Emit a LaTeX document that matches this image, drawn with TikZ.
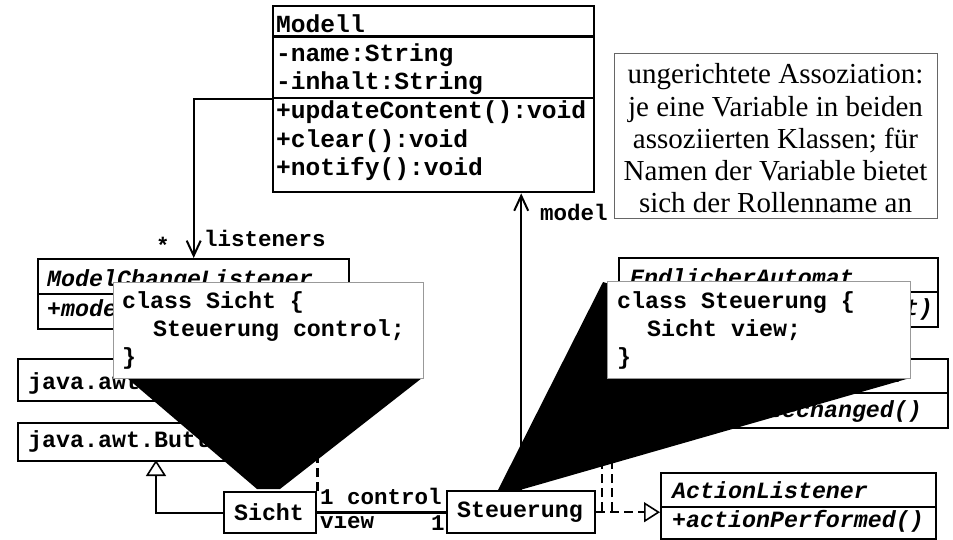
\documentclass[tikz,border=0pt]{standalone}
\usepackage{fontspec}
\setmainfont{Liberation Serif}
\newfontfamily\cmono{Liberation Mono}
\usetikzlibrary{arrows.meta}
\tikzset{
  clsbox/.style={draw, line width=2.4pt, inner sep=0pt, anchor=north west, fill=white},
  ctext/.style={font=\cmono\bfseries\fontsize{23.3}{28}\selectfont, inner sep=0pt, anchor=base west},
  ctexti/.style={font=\cmono\bfseries\itshape\fontsize{23.3}{28}\selectfont, inner sep=0pt, anchor=base west},
  mtext/.style={font=\cmono\bfseries\fontsize{24.6}{29}\selectfont, inner sep=0pt, anchor=base west},
  lbl/.style={font=\cmono\bfseries\fontsize{22.5}{27}\selectfont, inner sep=0pt, anchor=base west},
  sepline/.style={line width=2.4pt},
  conn/.style={line width=2.2pt},
  dashconn/.style={line width=2.2pt, dash pattern=on 9pt off 5pt},
  opentri/.style={-{Triangle[open, length=16pt, width=20pt, line width=1.6pt]}},
  barb/.style={-{Straight Barb[length=15pt, width=14pt, line width=2pt]}},
  callbox/.style={draw=black!40, line width=1.4pt, fill=white, inner sep=0pt, anchor=north west},
  calltext/.style={font=\cmono\bfseries\fontsize{23.3}{28}\selectfont, inner sep=0pt, anchor=base west, align=left},
}
\begin{document}
\begin{tikzpicture}[x=1pt,y=-1pt]
\useasboundingbox (0,0) rectangle (953,540);
\fill[white] (0,0) rectangle (953,540);

% ---------- Modell ----------
\node[clsbox, minimum width=321pt, minimum height=186pt] (modell) at (272,5) {};
\draw[line width=3pt] (modell.west |- 0,37) -- (modell.east |- 0,37);
\draw[sepline] (modell.west |- 0,98) -- (modell.east |- 0,98);
\node[mtext] (m1) at (276,33) {Modell};
\node[mtext] (m2) at (276,62) {-name:String};
\node[mtext] (m3) at (276,90) {-inhalt:String};
\node[mtext] (m4) at (276,119) {+updateContent():void};
\node[mtext] (m5) at (276,148) {+clear():void};
\node[mtext] (m6) at (276,176) {+notify():void};

% ---------- note ----------
\node[draw=black!60, line width=1pt, inner sep=0pt, anchor=north west, minimum width=323pt, minimum height=165pt] (note) at (614,53) {};
\node[font=\fontsize{29}{32.3}\selectfont, align=center, anchor=base, inner sep=0pt] (notetext) at (775.5,213)
  {ungerichtete Assoziation:\\je eine Variable in beiden\\assoziierten Klassen; für\\Namen der Variable bietet\\sich der Rollenname an};

% ---------- ModelChangeListener ----------
\node[clsbox, minimum width=311pt, minimum height=70pt] (mcl) at (37,258) {};
\draw[sepline] (mcl.west |- 0,294) -- (mcl.east |- 0,294);
\node[ctexti] (mclh) at (47,286) {ModelChangeListener};
\node[ctexti] (mclm) at (47,316) {+modelChanged()};

% ---------- java.awt boxes ----------
\node[clsbox, minimum width=233pt, minimum height=42pt] (jf) at (17,358) {};
\node[ctext] (jft) at (28,389) {java.awt.Frame};
\node[clsbox, minimum width=233pt, minimum height=38pt] (jb) at (17,422) {};
\node[ctext] (jbt) at (28,447) {java.awt.Button};

% ---------- Sicht / Steuerung ----------
\node[clsbox, minimum width=92pt, minimum height=41pt] (sicht) at (223,491) {};
\node[font=\cmono\bfseries\fontsize{23.3}{28}\selectfont, inner sep=0pt] (sichtt) at (269,512) {Sicht};
\node[clsbox, minimum width=148pt, minimum height=42pt] (steu) at (446,490) {};
\node[font=\cmono\bfseries\fontsize{23.3}{28}\selectfont, inner sep=0pt] (steut) at (520,512) {Steuerung};

% ---------- EndlicherAutomat ----------
\node[clsbox, minimum width=319pt, minimum height=69pt] (ea) at (618,257) {};
\draw[sepline] (ea.west |- 0,292) -- (ea.east |- 0,292);
\node[ctexti] (eah) at (630,285) {EndlicherAutomat};
\node[ctexti, anchor=base east] (eam) at (933,315) {+eingabe(char t)};

% ---------- ChangeListener ----------
\node[clsbox, minimum width=247pt, minimum height=69pt] (chl) at (700,358) {};
\draw[sepline] (chl.west |- 0,393) -- (chl.east |- 0,393);
\node[ctexti] (chlh) at (712,382) {ChangeListener};
\node[ctexti] (chlm) at (712,417) {+statechanged()};

% ---------- ActionListener ----------
\node[clsbox, minimum width=275pt, minimum height=66pt] (al) at (660,472) {};
\draw[sepline] (al.west |- 0,507) -- (al.east |- 0,507);
\node[ctexti] (alh) at (672,498) {ActionListener};
\node[ctexti] (alm) at (672,527) {+actionPerformed()};

% ---------- connectors ----------
\draw[conn, barb] (modell.west) -| (mcl.north);
\node[lbl] (star) at (156,253) {*};
\node[lbl] (lis) at (204,247) {listeners};

\draw[conn, barb] (steu.north) -- (steu.north |- modell.south);
\node[lbl] (modlbl) at (540,221) {model};

\draw[line width=2.6pt] (sicht.east) -- (sicht.east -| steu.west);
\node[lbl] (c1) at (320,504) {1 control};
\node[lbl] (v1) at (320,528) {view};
\node[lbl] (o1) at (431,530) {1};

\coordinate (jbin) at (156,460);
\draw[conn, opentri] (sicht.west) -| (jbin);

\draw[dashconn, opentri] (sicht.north east) -- (sicht.north east |- mcl.south);

\draw[dashconn, opentri] (steu.east) -- (steu.east -| al.west);
\coordinate (j1) at (602,511);
\coordinate (j2) at (612,511);
\coordinate (eain) at (618,305);
\draw[dashconn, opentri] (j1) |- (eain);
\draw[dashconn, opentri] (j2) |- (chl.west);

% ---------- callouts ----------
\fill[black] (127,378) -- (422,378) -- (280,489) -- (257,489) -- cycle;
\node[callbox, minimum width=310pt, minimum height=96pt] (csicht) at (113,282) {};
\node[calltext] (csichtt) at (122,364) {class Sicht \{\\\hspace*{31pt}Steuerung control;\\\}};

\fill[black] (498,490) -- (603,282) -- (910,378) -- (520,490) -- cycle;
\node[callbox, minimum width=303pt, minimum height=97pt] (csteu) at (607,281) {};
\node[calltext] (csteut) at (617,364) {class Steuerung \{\\\hspace*{30pt}Sicht view;\\\}};
\end{tikzpicture}
\end{document}
